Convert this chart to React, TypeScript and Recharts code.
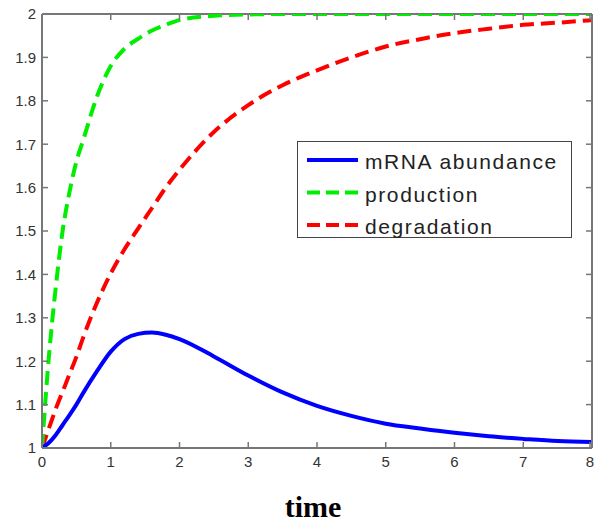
import { LineChart, Line, XAxis, YAxis, Legend } from "recharts"

// values
const time = [0, 0.1, 0.2, 0.3, 0.4, 0.5, 0.6, 0.8, 1.0, 1.2, 1.4, 1.6, 1.8, 2.0, 2.5, 3.0, 3.5, 4.0, 4.5, 5.0, 5.5, 6.0, 6.5, 7.0, 7.5, 8.0]
const mrna = [1.0, 1.012, 1.03, 1.053, 1.076, 1.1, 1.127, 1.177, 1.222, 1.251, 1.263, 1.266, 1.261, 1.251, 1.211, 1.167, 1.128, 1.097, 1.074, 1.056, 1.045, 1.035, 1.027, 1.021, 1.016, 1.014]
const production = [1.0, 1.21, 1.37, 1.5, 1.59, 1.66, 1.71, 1.81, 1.88, 1.92, 1.943, 1.962, 1.975, 1.986, 1.996, 1.999, 2, 2, 2, 2, 2, 2, 2, 2, 2, 2]
const degradation = [1.0, 1.045, 1.09, 1.13, 1.17, 1.21, 1.255, 1.335, 1.402, 1.458, 1.506, 1.553, 1.6, 1.641, 1.728, 1.79, 1.836, 1.87, 1.9, 1.925, 1.942, 1.956, 1.966, 1.975, 1.98, 1.986]

const xTicks = [0, 1, 2, 3, 4, 5, 6, 7, 8]
const yTicks = [1, 1.1, 1.2, 1.3, 1.4, 1.5, 1.6, 1.7, 1.8, 1.9, 2]

const legendItems = [
  { name: "mRNA abundance", color: "#0000ff", dash: undefined },
  { name: "production", color: "#00ee00", dash: "13 6" },
  { name: "degradation", color: "#ff0000", dash: "13 6" },
]

const data = time.map((t, i) => ({
  time: t,
  mrna: mrna[i],
  production: production[i],
  degradation: degradation[i],
}))

const axisColor = "#777"
const font = "Liberation Sans, Arial, sans-serif"
const fmtY = (v: number) => String(Number(v.toFixed(1)))
const TICK = 6

// MATLAB style: tick marks point into the plot box
function BottomTick(props: any) {
  const { x, y, payload } = props
  return (
    <g>
      <line x1={x} x2={x} y1={y - 8} y2={y - 8 - TICK} stroke={axisColor} strokeWidth={1.5} />
      <text x={x} y={y} dy="0.71em" textAnchor="middle" fontSize={15} fill="#333" fontFamily={font}>
        {payload.value}
      </text>
    </g>
  )
}

function LeftTick(props: any) {
  const { x, y, payload } = props
  return (
    <g>
      <line x1={x + 6} x2={x + 6 + TICK} y1={y} y2={y} stroke={axisColor} strokeWidth={1.5} />
      <text x={x} y={y} dy="0.355em" textAnchor="end" fontSize={15} fill="#333" fontFamily={font}>
        {fmtY(payload.value)}
      </text>
    </g>
  )
}

function TopTick(props: any) {
  const { x, y } = props
  return <line x1={x} x2={x} y1={y} y2={y + TICK} stroke={axisColor} strokeWidth={1.5} />
}

function RightTick(props: any) {
  const { x, y } = props
  return <line x1={x} x2={x - TICK} y1={y} y2={y} stroke={axisColor} strokeWidth={1.5} />
}

function LegendBox() {
  return (
    <svg width={275} height={97} style={{ display: "block" }}>
      <rect x={0.5} y={0.5} width={274} height={96} fill="#fff" stroke="#444" strokeWidth={1} />
      {legendItems.map((item, i) => {
        const y = 19 + i * 32.5
        return (
          <g key={item.name}>
            <line x1={10} x2={61} y1={y} y2={y} stroke={item.color} strokeWidth={4} strokeDasharray={item.dash} />
            <text x={68} y={y + 9} fontSize={21} letterSpacing={1.6} fill="#222" fontFamily={font}>
              {item.name}
            </text>
          </g>
        )
      })}
    </svg>
  )
}

export default function App() {
  return (
    <div style={{ position: "absolute", left: 0, top: 0, background: "#fff" }}>
      <LineChart width={594} height={523} data={data} margin={{ top: 13, right: 1, left: 0, bottom: 0 }}>
        <XAxis
          xAxisId="bottom"
          dataKey="time"
          type="number"
          domain={[0, 8]}
          ticks={xTicks}
          allowDataOverflow
          height={75}
          stroke={axisColor}
          strokeWidth={2}
          tickLine={false}
          tickSize={0}
          tickMargin={8}
          tick={BottomTick}
          label={{
            value: "time",
            position: "insideBottom",
            offset: 6,
            dx: -4,
            fontSize: 30,
            fontWeight: "bold",
            fill: "#000",
            fontFamily: "Liberation Serif, Times New Roman, serif",
          }}
        />
        <XAxis
          xAxisId="top"
          orientation="top"
          dataKey="time"
          type="number"
          domain={[0, 8]}
          ticks={xTicks}
          allowDataOverflow
          height={1}
          stroke={axisColor}
          strokeWidth={2}
          tickLine={false}
          tickSize={0}
          tickMargin={0}
          tick={TopTick}
          zIndex={300}
        />
        <YAxis
          yAxisId="left"
          type="number"
          domain={[1, 2]}
          ticks={yTicks}
          allowDataOverflow
          width={42}
          stroke={axisColor}
          strokeWidth={2}
          tickLine={false}
          tickSize={0}
          tickMargin={6}
          tick={LeftTick}
        />
        <YAxis
          yAxisId="right"
          orientation="right"
          type="number"
          domain={[1, 2]}
          ticks={yTicks}
          allowDataOverflow
          width={1}
          stroke={axisColor}
          strokeWidth={2}
          tickLine={false}
          tickSize={0}
          tickMargin={0}
          tick={RightTick}
        />
        <Line
          xAxisId="bottom"
          yAxisId="left"
          type="monotone"
          dataKey="degradation"
          stroke="#ff0000"
          strokeWidth={4}
          strokeDasharray="14 7"
          dot={false}
          isAnimationActive={false}
        />
        <Line
          xAxisId="bottom"
          yAxisId="left"
          type="monotone"
          dataKey="production"
          stroke="#00ee00"
          strokeWidth={4}
          strokeDasharray="14 7"
          dot={false}
          isAnimationActive={false}
        />
        <Line
          xAxisId="top"
          yAxisId="right"
          type="monotone"
          dataKey="mrna"
          stroke="#0000ff"
          strokeWidth={4}
          dot={false}
          isAnimationActive={false}
        />
        <Legend
          layout="vertical"
          align="center"
          verticalAlign="middle"
          wrapperStyle={{ left: 297, top: 141, width: 275, height: 97 }}
          content={() => <LegendBox />}
        />
      </LineChart>
    </div>
  )
}
